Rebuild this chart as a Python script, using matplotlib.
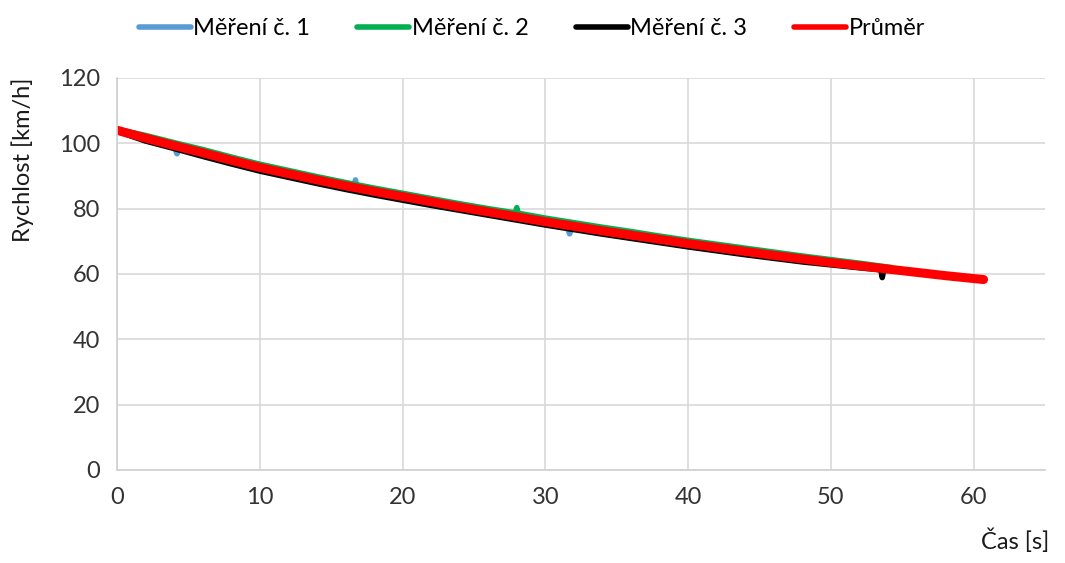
import matplotlib
matplotlib.use("Agg")
import matplotlib.pyplot as plt

plt.rcParams["font.family"] = ["Lato", "DejaVu Sans"]

# Měření č. 1 (modrá)
t1 = [0, 2, 4, 4.2, 4.4, 6, 8, 10, 12, 14, 16, 16.6, 16.7, 16.8, 18, 20, 22, 24, 26, 28,
      30, 31.5, 31.7, 31.9, 34, 36, 38, 40, 42, 44, 46, 48, 50, 52, 53.7]
v1 = [104.1, 101.5, 99.1, 96.8, 98.9, 97.0, 94.6, 92.4, 90.6, 88.7, 86.9, 86.4, 88.8, 86.3, 85.2,
      83.6, 82.0, 80.4, 78.9, 77.4, 75.9, 74.9, 72.3, 74.7, 73.1, 71.8, 70.4, 69.2, 68.0, 66.8,
      65.6, 64.5, 63.3, 62.4, 61.6]

# Měření č. 2 (zelená)
t2 = [0, 2, 4, 6, 8, 10, 12, 14, 16, 18, 20, 22, 24, 26, 27.9, 28.0, 28.1, 30, 32, 34,
      36, 38, 40, 42, 44, 46, 48, 50, 52, 54.2]
v2 = [104.3, 102.4, 100.2, 98.1, 95.8, 93.6, 91.7, 89.8, 88.0, 86.3, 84.7, 83.1, 81.5, 80.0,
      78.7, 80.3, 78.6, 77.1, 75.7, 74.3, 73.0, 71.6, 70.3, 69.1, 67.9, 66.7, 65.5, 64.4, 63.3, 62.0]

# Měření č. 3 (černá)
t3 = [0, 2, 4, 6, 8, 10, 12, 14, 16, 18, 20, 22, 24, 26, 28, 30, 32, 34, 36, 38, 40,
      42, 44, 46, 48, 50, 52, 53.5, 53.6, 53.7, 54.0]
v3 = [103.7, 100.7, 98.4, 96.0, 93.7, 91.5, 89.6, 87.7, 85.9, 84.2, 82.6, 81.0, 79.5, 78.0,
      76.5, 75.0, 73.6, 72.2, 70.9, 69.6, 68.3, 67.1, 65.9, 64.8, 63.7, 62.8, 61.9, 61.3, 58.9,
      61.2, 61.1]

# Průměr (červená)
t_avg = [0, 2, 4, 6, 8, 10, 12, 14, 16, 18, 20, 22, 24, 26, 28, 30, 32, 34, 36, 38, 40,
         42, 44, 46, 48, 50, 52, 54, 56, 58, 60, 60.7]
v_avg = [104.0, 101.6, 99.3, 97.1, 94.8, 92.6, 90.7, 88.8, 87.0, 85.3, 83.7, 82.1, 80.5, 79.0,
         77.5, 76.0, 74.6, 73.2, 71.9, 70.6, 69.3, 68.1, 66.9, 65.7, 64.6, 63.5, 62.5, 61.5,
         60.5, 59.5, 58.6, 58.3]

fig = plt.figure(figsize=(10.65, 5.63), dpi=100)
ax = fig.add_axes([0.1099, 0.1652, 0.8713, 0.6963])

ax.plot(t1, v1, color="#5b9bd5", linewidth=4, label="Měření č. 1", solid_capstyle="round")
ax.plot(t2, v2, color="#00b050", linewidth=4, label="Měření č. 2", solid_capstyle="round")
ax.plot(t3, v3, color="#000000", linewidth=4, label="Měření č. 3", solid_capstyle="round")
ax.plot(t_avg, v_avg, color="#ff0000", linewidth=6.5, label="Průměr", solid_capstyle="round")

ax.set_xlim(0, 65)
ax.set_ylim(0, 120)
ax.set_xticks(range(0, 61, 10))
ax.set_yticks(range(0, 121, 20))
ax.grid(True, color="#d9d9d9", linewidth=1.2)
ax.set_axisbelow(True)
ax.tick_params(length=0, labelsize=17, colors="#333333", pad=12)
for s in ["top", "right"]:
    ax.spines[s].set_visible(False)
for s in ["left", "bottom"]:
    ax.spines[s].set_color("#d0d0d0")
    ax.spines[s].set_linewidth(1.2)

ax.set_ylabel("Rychlost [km/h]", fontsize=17, color="#1a1a1a")
ax.yaxis.set_label_coords(-0.089, 0.79)
fig.text(0.953, 0.018, "Čas [s]", fontsize=17, color="#1a1a1a", ha="center", va="bottom")

leg = ax.legend(loc="lower center", bbox_to_anchor=(0.447, 1.045), ncol=4, frameon=False,
                fontsize=17, handlelength=2.2, handletextpad=0.1, columnspacing=2.0)
for line in leg.get_lines():
    line.set_linewidth(4)

fig.savefig("out.png", dpi=100)
